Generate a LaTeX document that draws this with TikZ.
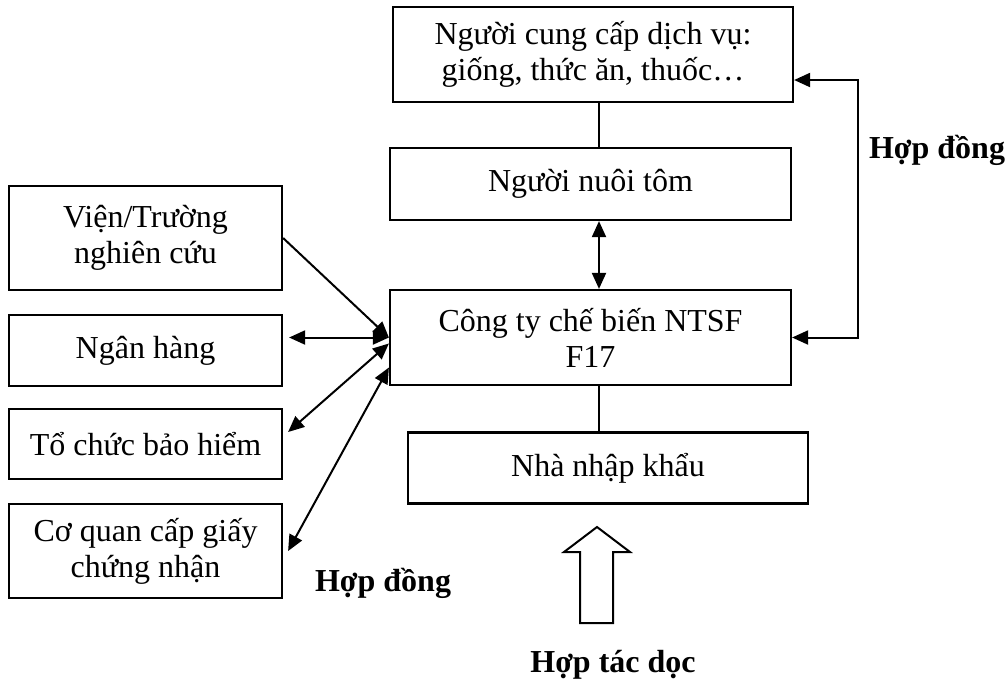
\documentclass[tikz,border=0pt]{standalone}
\usepackage{fontspec}
\setmainfont{Liberation Serif}
\usetikzlibrary{arrows.meta}
\usetikzlibrary{calc}

\begin{document}
\begin{tikzpicture}[x=.5pt,y=-.5pt,>={Triangle[length=8pt,width=7pt]},
hop/.style={rectangle,draw=black,line width=1.1pt,inner sep=0pt,align=center,
  font=\fontsize{16}{18}\selectfont},
cimke/.style={font=\fontsize{16}{18}\selectfont\bfseries}
]

\useasboundingbox (0,0) rectangle (1007,693);

\coordinate (spine) at (599,0);
\coordinate (rt) at (858,80);

\node[hop,minimum width=200pt,minimum height=47.5pt](svc) at (593,54.5)
{Người cung cấp dịch vụ:\\giống, thức ăn, thuốc…};
\node[hop,minimum width=200.5pt,minimum height=36pt](nuoi) at (590.5,184){Người nuôi tôm};
\node[hop,minimum width=200.5pt,minimum height=47.5pt](congty) at (590.5,337.5)
{Công ty chế biến NTSF\\F17};
\node[hop,minimum width=200pt,minimum height=35.5pt](nhap) at (608,468){Nhà nhập khẩu};

\node[hop,minimum width=136.5pt,minimum height=52pt](vien) at (145.5,238){Viện/Trường\\nghiên cứu};
\node[hop,minimum width=136.5pt,minimum height=35.5pt](ngan) at (145.5,350.5){Ngân hàng};
\node[hop,minimum width=136.5pt,minimum height=35pt](baohiem) at (145.5,444){Tổ chức bảo hiểm};
\node[hop,minimum width=136.5pt,minimum height=47pt](coquan) at (145.5,551)
{Cơ quan cấp giấy\\chứng nhận};

\node[cimke](hd-right) at (937,150){Hợp đồng};
\node[cimke](hd-left) at (383,583){Hợp đồng};
\node[cimke](hoptac) at (613,665){Hợp tác dọc};

\begin{scope}[line width=1pt]
\draw (svc.south -| spine)--(nuoi.north -| spine);
\draw (congty.south -| spine)--(nhap.north -| spine);
\draw[<->] (nuoi.south -| spine)--(congty.north -| spine);
\draw[<->] (svc.east |- rt)--(rt) |- (congty.east);
\draw[->] (vien.east)--(congty.west);
\draw[<->] ([xshift=3pt]congty.west -| ngan.east)--(congty.west);
\draw[<->] ([shift={(2.5pt,6pt)}]baohiem.east)--([yshift=-3pt]congty.west);
\draw[<->] ([xshift=2.5pt]coquan.east)--([yshift=-15pt]congty.west);
\end{scope}

% mui ten rong
\draw[line width=1pt] (580,623)--(580,552)--(564,552)--(597,527)--(630,552)
  --(613,552)--(613,623)--cycle;

\end{tikzpicture}
\end{document}
